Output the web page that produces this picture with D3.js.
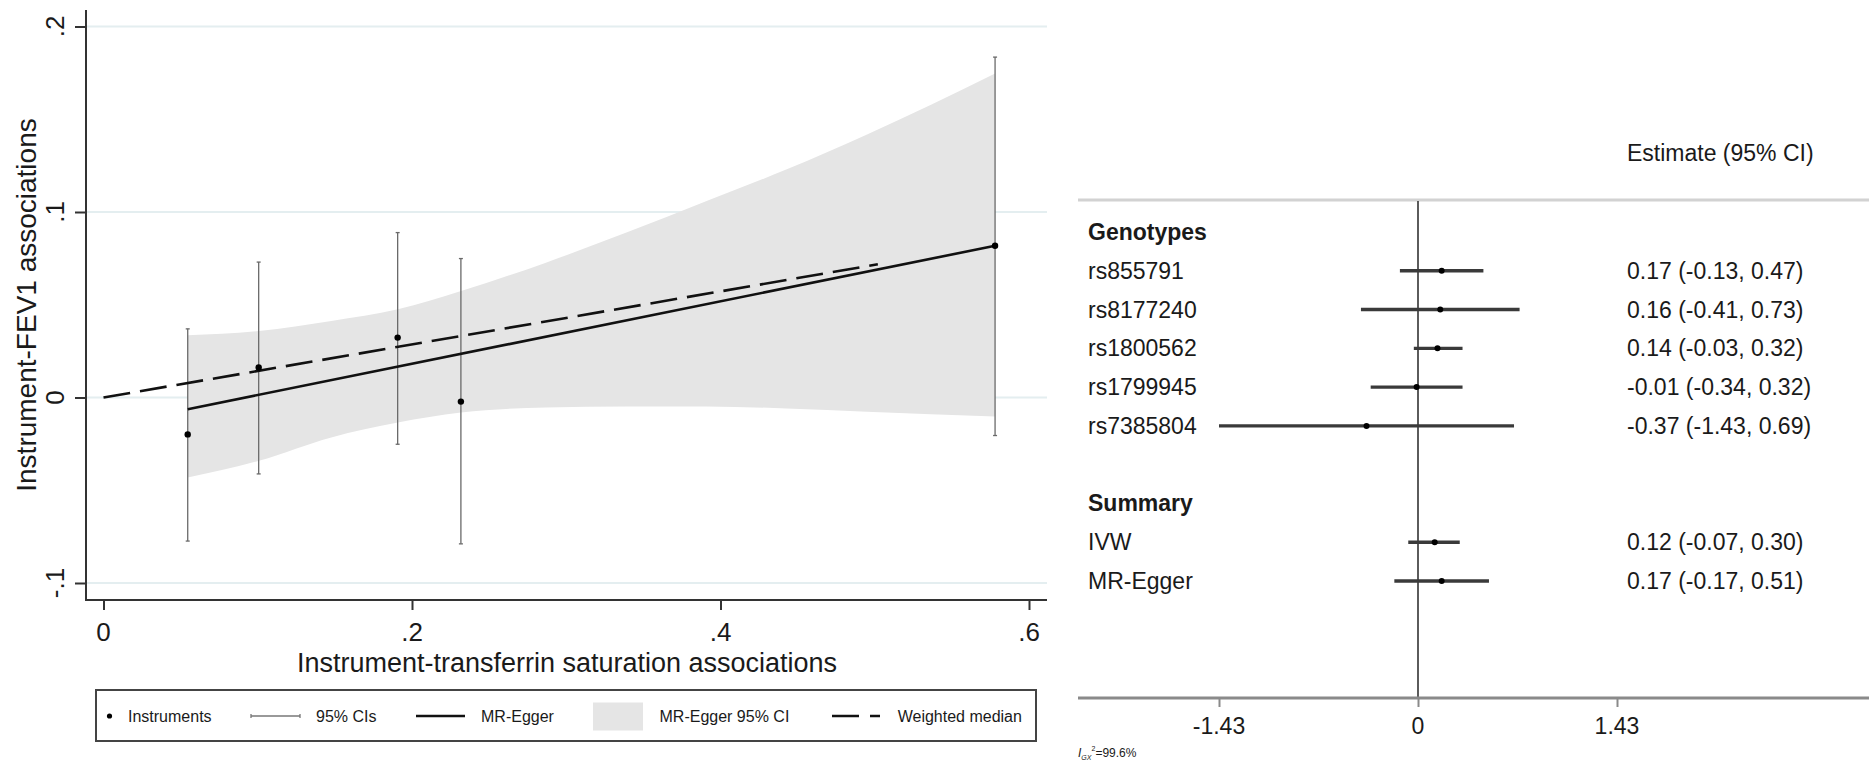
<!DOCTYPE html>
<html>
<head>
<meta charset="utf-8">
<script src="https://cdn.jsdelivr.net/npm/d3@7"></script>
<style>
body { margin: 0; background: #fff; }
text { font-family: "Liberation Sans", Arial, sans-serif; fill: #1a1a1a; }
</style>
</head>
<body>
<script>

// instruments (scatter with 95% CIs)
var instrX = [0.0546, 0.1006, 0.1907, 0.2317, 0.578];
var instrY = [-0.0199, 0.0162, 0.0323, -0.0022, 0.0818];
var ciLow  = [-0.0774, -0.0412, -0.0252, -0.0789, -0.0205];
var ciHigh = [0.0370, 0.0730, 0.0889, 0.0749, 0.1835];

// MR-Egger fit and its 95% CI band, weighted median line
var eggerX = [0.0546, 0.578];
var eggerY = [-0.0063, 0.0818];
var bandX     = [0.0546, 0.1008, 0.1477, 0.1908, 0.2318, 0.2868, 0.339, 0.391, 0.443, 0.495, 0.578];
var bandUpper = [0.0336, 0.0359, 0.0413, 0.0476, 0.0574, 0.0727, 0.0889, 0.1059, 0.1230, 0.1418, 0.1747];
var bandLower = [-0.0431, -0.0341, -0.0215, -0.0135, -0.0081, -0.0054, -0.0048, -0.0048, -0.0059, -0.0077, -0.0102];
var medianX = [0, 0.502];
var medianY = [0, 0.0718];

var xTicks = [0, 0.2, 0.4, 0.6];
var xTickLabels = ["0", ".2", ".4", ".6"];
var yTicks = [-0.1, 0, 0.1, 0.2];
var yTickLabels = ["-.1", "0", ".1", ".2"];

// forest plot
var snps   = ["rs855791", "rs8177240", "rs1800562", "rs1799945", "rs7385804"];
var snpEst = [0.17, 0.16, 0.14, -0.01, -0.37];
var snpLo  = [-0.13, -0.41, -0.03, -0.34, -1.43];
var snpHi  = [0.47, 0.73, 0.32, 0.32, 0.69];
var methods   = ["IVW", "MR-Egger"];
var methodEst = [0.12, 0.17];
var methodLo  = [-0.07, -0.17];
var methodHi  = [0.30, 0.51];
var forestTicks = [-1.43, 0, 1.43];
var forestTickLabels = ["-1.43", "0", "1.43"];

var svgWidth = 1869, svgHeight = 763;

var svg = d3.select("body").append("svg")
    .attr("width", svgWidth)
    .attr("height", svgHeight);

svg.append("rect").attr("width", svgWidth).attr("height", svgHeight).attr("fill", "#fff");

// ---------- left panel: scatter ----------
var plotLeft = 86, plotRight = 1047, plotTop = 10, plotBottom = 600;

var x = d3.scaleLinear().domain([0, 0.6]).range([103.5, 1029]);
var y = d3.scaleLinear().domain([-0.1, 0.2]).range([583, 26.5]);

// gridlines
svg.append("g").selectAll("line")
    .data(yTicks)
    .enter()
    .append("line")
    .attr("x1", plotLeft).attr("x2", plotRight)
    .attr("y1", d => y(d)).attr("y2", d => y(d))
    .attr("stroke", "#e4eef0")
    .attr("stroke-width", 2);

// MR-Egger 95% CI band
var band = d3.area()
    .x(d => x(d))
    .y0((d, i) => y(bandLower[i]))
    .y1((d, i) => y(bandUpper[i]))
    .curve(d3.curveMonotoneX);
svg.append("path")
    .datum(bandX)
    .attr("d", band)
    .attr("fill", "#e5e5e5");

// 95% CIs of the instruments
var ci = svg.append("g").attr("stroke", "#6a6a6a").attr("stroke-width", 1.3);
ci.selectAll(".bar")
    .data(instrX)
    .enter()
    .append("line")
    .attr("x1", d => x(d)).attr("x2", d => x(d))
    .attr("y1", (d, i) => y(ciLow[i])).attr("y2", (d, i) => y(ciHigh[i]));
ci.selectAll(".capLo")
    .data(instrX)
    .enter()
    .append("line")
    .attr("x1", d => x(d) - 2).attr("x2", d => x(d) + 2)
    .attr("y1", (d, i) => y(ciLow[i])).attr("y2", (d, i) => y(ciLow[i]));
ci.selectAll(".capHi")
    .data(instrX)
    .enter()
    .append("line")
    .attr("x1", d => x(d) - 2).attr("x2", d => x(d) + 2)
    .attr("y1", (d, i) => y(ciHigh[i])).attr("y2", (d, i) => y(ciHigh[i]));

// MR-Egger line
var line = d3.line().x(d => x(d[0])).y(d => y(d[1]));
svg.append("path")
    .datum(eggerX.map((d, i) => [d, eggerY[i]]))
    .attr("d", line)
    .attr("fill", "none")
    .attr("stroke", "#111")
    .attr("stroke-width", 2.6);

// weighted median line
svg.append("path")
    .datum(medianX.map((d, i) => [d, medianY[i]]))
    .attr("d", line)
    .attr("fill", "none")
    .attr("stroke", "#111")
    .attr("stroke-width", 2.6)
    .attr("stroke-dasharray", "27,10");

// instruments
svg.append("g").selectAll("circle")
    .data(instrX)
    .enter()
    .append("circle")
    .attr("cx", d => x(d))
    .attr("cy", (d, i) => y(instrY[i]))
    .attr("r", 3.2)
    .attr("fill", "#000");

// axes
var yAxis = d3.axisLeft(y).tickValues(yTicks).tickSize(11).tickFormat("");
svg.append("g")
    .attr("transform", "translate(" + plotLeft + ",0)")
    .call(yAxis)
    .call(g => g.select(".domain").remove())
    .call(g => g.selectAll("line").attr("stroke", "#333").attr("stroke-width", 2));
var xAxis = d3.axisBottom(x).tickValues(xTicks).tickSize(10).tickFormat("");
svg.append("g")
    .attr("transform", "translate(0," + plotBottom + ")")
    .call(xAxis)
    .call(g => g.select(".domain").remove())
    .call(g => g.selectAll("line").attr("stroke", "#333").attr("stroke-width", 2));

svg.append("line")
    .attr("x1", plotLeft).attr("x2", plotLeft)
    .attr("y1", plotTop).attr("y2", plotBottom + 1)
    .attr("stroke", "#333").attr("stroke-width", 2);
svg.append("line")
    .attr("x1", plotLeft - 1).attr("x2", plotRight)
    .attr("y1", plotBottom).attr("y2", plotBottom)
    .attr("stroke", "#333").attr("stroke-width", 2);

// tick labels
svg.selectAll(".ylab")
    .data(yTicks)
    .enter()
    .append("text")
    .attr("transform", d => "translate(64," + y(d) + ") rotate(-90)")
    .attr("text-anchor", "middle")
    .attr("font-size", 26)
    .text((d, i) => yTickLabels[i]);
svg.selectAll(".xlab")
    .data(xTicks)
    .enter()
    .append("text")
    .attr("x", d => x(d))
    .attr("y", 641)
    .attr("text-anchor", "middle")
    .attr("font-size", 26)
    .text((d, i) => xTickLabels[i]);

// titles
svg.append("text")
    .attr("transform", "translate(36,305) rotate(-90)")
    .attr("text-anchor", "middle")
    .attr("font-size", 28)
    .text("Instrument-FEV1 associations");
svg.append("text")
    .attr("x", 567).attr("y", 671.5)
    .attr("text-anchor", "middle")
    .attr("font-size", 27)
    .text("Instrument-transferrin saturation associations");

// legend
var legend = svg.append("g");
legend.append("rect")
    .attr("x", 96).attr("y", 690).attr("width", 940).attr("height", 51)
    .attr("fill", "#fff").attr("stroke", "#444").attr("stroke-width", 2);
var ly = 716;
legend.append("circle").attr("cx", 109.5).attr("cy", ly).attr("r", 2.6).attr("fill", "#000");
legend.append("line").attr("x1", 251).attr("x2", 300).attr("y1", ly).attr("y2", ly)
    .attr("stroke", "#777").attr("stroke-width", 1.3);
legend.append("line").attr("x1", 251).attr("x2", 251).attr("y1", ly - 2).attr("y2", ly + 2)
    .attr("stroke", "#777").attr("stroke-width", 1.3);
legend.append("line").attr("x1", 300).attr("x2", 300).attr("y1", ly - 2).attr("y2", ly + 2)
    .attr("stroke", "#777").attr("stroke-width", 1.3);
legend.append("line").attr("x1", 416).attr("x2", 465).attr("y1", ly).attr("y2", ly)
    .attr("stroke", "#111").attr("stroke-width", 2.6);
legend.append("rect").attr("x", 593).attr("y", 702.5).attr("width", 50).attr("height", 28)
    .attr("fill", "#e5e5e5");
legend.append("line").attr("x1", 832).attr("x2", 880).attr("y1", ly).attr("y2", ly)
    .attr("stroke", "#111").attr("stroke-width", 2.6).attr("stroke-dasharray", "27,11");
var legendItems = [["Instruments", 128], ["95% CIs", 316], ["MR-Egger", 481],
                   ["MR-Egger 95% CI", 659.5], ["Weighted median", 897.7]];
legend.selectAll("text")
    .data(legendItems)
    .enter()
    .append("text")
    .attr("x", d => d[1])
    .attr("y", ly + 6)
    .attr("font-size", 16)
    .attr("fill", "#222")
    .text(d => d[0]);

// ---------- right panel: forest plot ----------
var fx = d3.scaleLinear().domain([-1.43, 1.43]).range([1219, 1617]);
var fy = d3.scaleLinear().domain([0, 9]).range([232, 581]);
var panelLeft = 1078, panelRight = 1869, headLine = 200, forestAxis = 698;

var rows = [{ label: "Genotypes", head: true, row: 0 }];
snps.forEach((s, i) => rows.push({ label: s, est: snpEst[i], lo: snpLo[i], hi: snpHi[i], row: i + 1 }));
rows.push({ label: "Summary", head: true, row: 7 });
methods.forEach((m, i) => rows.push({ label: m, est: methodEst[i], lo: methodLo[i], hi: methodHi[i], row: 8 + i }));
var dataRows = rows.filter(d => !d.head);

svg.append("text")
    .attr("x", 1627).attr("y", 161)
    .attr("font-size", 23)
    .text("Estimate (95% CI)");
svg.append("line")
    .attr("x1", panelLeft).attr("x2", panelRight)
    .attr("y1", headLine).attr("y2", headLine)
    .attr("stroke", "#d2d2d2").attr("stroke-width", 3);

// zero line
svg.append("line")
    .attr("x1", fx(0)).attr("x2", fx(0))
    .attr("y1", headLine + 1).attr("y2", forestAxis)
    .attr("stroke", "#333").attr("stroke-width", 1.6);

// CI lines and estimates
svg.append("g").selectAll("line")
    .data(dataRows)
    .enter()
    .append("line")
    .attr("x1", d => fx(d.lo)).attr("x2", d => fx(d.hi))
    .attr("y1", d => fy(d.row)).attr("y2", d => fy(d.row))
    .attr("stroke", "#3a3a3a").attr("stroke-width", 3.4);
svg.append("g").selectAll("circle")
    .data(dataRows)
    .enter()
    .append("circle")
    .attr("cx", d => fx(d.est))
    .attr("cy", d => fy(d.row))
    .attr("r", 3)
    .attr("fill", "#000");

// row labels and estimate text
svg.append("g").selectAll("text")
    .data(rows)
    .enter()
    .append("text")
    .attr("x", 1088)
    .attr("y", d => fy(d.row) + 8)
    .attr("font-size", 23)
    .attr("font-weight", d => d.head ? "bold" : "normal")
    .text(d => d.label);
var fmt = d => d.toFixed(2);
svg.append("g").selectAll("text")
    .data(dataRows)
    .enter()
    .append("text")
    .attr("x", 1627)
    .attr("y", d => fy(d.row) + 8)
    .attr("font-size", 23)
    .text(d => fmt(d.est) + " (" + fmt(d.lo) + ", " + fmt(d.hi) + ")");

// forest axis
svg.append("line")
    .attr("x1", panelLeft).attr("x2", panelRight)
    .attr("y1", forestAxis).attr("y2", forestAxis)
    .attr("stroke", "#8a8a8a").attr("stroke-width", 3);
var fAxis = d3.axisBottom(fx).tickValues(forestTicks).tickSize(9).tickFormat("");
svg.append("g")
    .attr("transform", "translate(0," + forestAxis + ")")
    .call(fAxis)
    .call(g => g.select(".domain").remove())
    .call(g => g.selectAll("line").attr("stroke", "#8a8a8a").attr("stroke-width", 2));
svg.selectAll(".flab")
    .data(forestTicks)
    .enter()
    .append("text")
    .attr("x", d => fx(d))
    .attr("y", 734)
    .attr("text-anchor", "middle")
    .attr("font-size", 23)
    .text((d, i) => forestTickLabels[i]);

// heterogeneity note
var note = svg.append("text")
    .attr("x", panelLeft).attr("y", 757)
    .attr("font-size", 12)
    .attr("fill", "#333");
note.append("tspan").attr("font-style", "italic").text("I");
note.append("tspan").attr("font-size", 7).attr("dy", 3).attr("font-style", "italic").text("GX");
note.append("tspan").attr("font-size", 7).attr("dy", -9).text("2");
note.append("tspan").attr("dy", 6).text("=99.6%");

</script>
</body>
</html>
